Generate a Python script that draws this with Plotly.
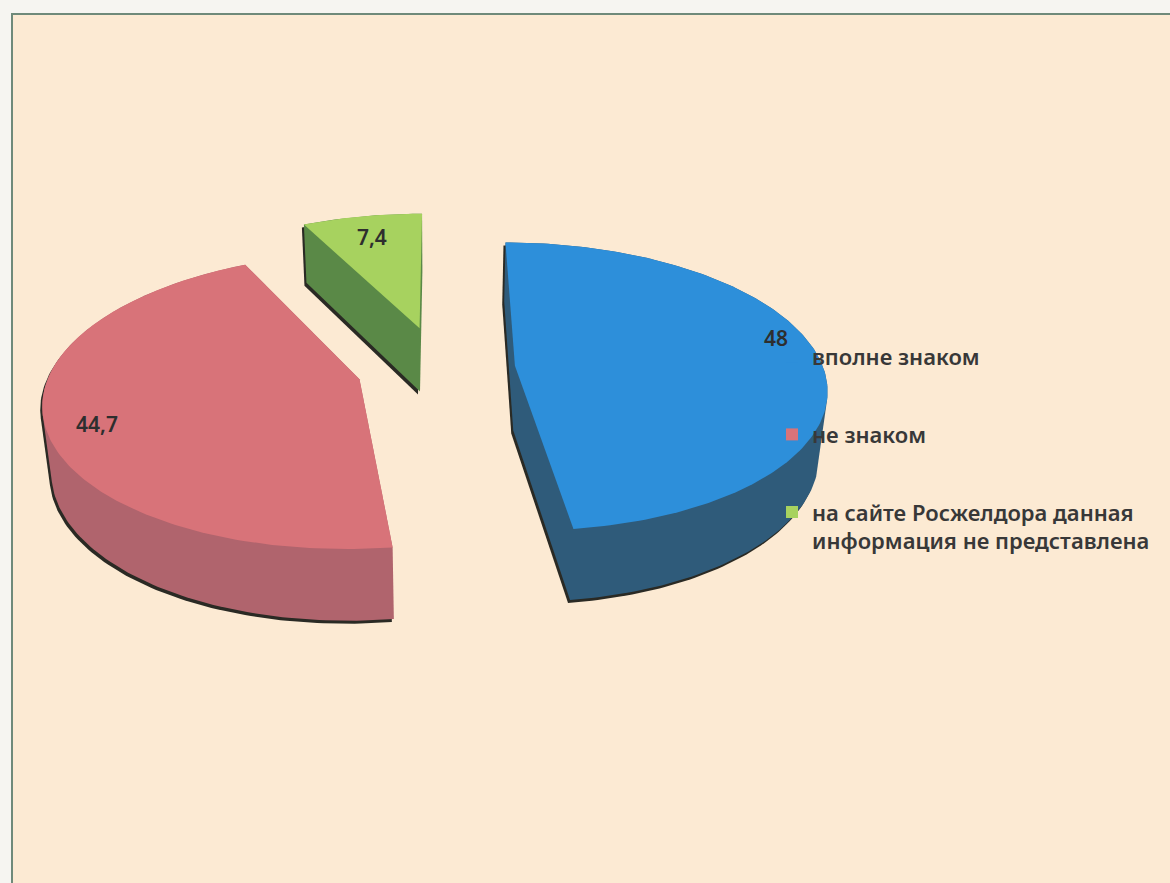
import math
import plotly.graph_objects as go

# ---- data ----
categories = ["вполне знаком", "не знаком",
              "на сайте Росжелдора данная информация не представлена"]
legend_names = ["вполне знаком", "не знаком",
                "на сайте Росжелдора данная<br>информация не представлена"]
values = [48, 44.7, 7.4]

# ---- styling ----
top_colors = ["#2d8fda", "#d87379", "#a7d25f"]
side_colors = ["#2f5b7a", "#b0646d", "#5a8947"]
pull = [0.244, 0.27, 0.30]          # explosion of each slice (in pie radii)
label_radius = [0.86, 0.84, 0.80]   # label distance from slice centre
label_yshift = [20, -8, 0]

W, H = 1170, 883
ELEV = math.radians(30)   # camera elevation
DIST = 6.0                # camera distance (pie radii)
FX, FY = 1850, 1700       # focal scale, px
VX, VY = 440, 368         # screen position of the pie centre
THICK = 0.27              # pie thickness (pie radii)
SHADOW = (-2, 3)          # px offset of the dark edge under each slice


def project(X, Z, h=0.0):
    """Perspective projection of a point on the pie (X right, Z away, h up)."""
    yc = h * math.cos(ELEV) + Z * math.sin(ELEV)
    zc = -h * math.sin(ELEV) + Z * math.cos(ELEV) + DIST
    return VX + FX * X / zc, VY - FY * yc / zc


def hull(points):
    pts = sorted(set(points))
    if len(pts) < 3:
        return pts

    def cross(o, a, b):
        return (a[0] - o[0]) * (b[1] - o[1]) - (a[1] - o[1]) * (b[0] - o[0])

    lower, upper = [], []
    for p in pts:
        while len(lower) >= 2 and cross(lower[-2], lower[-1], p) <= 0:
            lower.pop()
        lower.append(p)
    for p in reversed(pts):
        while len(upper) >= 2 and cross(upper[-2], upper[-1], p) <= 0:
            upper.pop()
        upper.append(p)
    return lower[:-1] + upper[:-1]


total = sum(values)
slices = []
start = 0.0
for i, v in enumerate(values):
    a0 = start
    a1 = start + 2 * math.pi * v / total
    start = a1
    mid = (a0 + a1) / 2
    cx = pull[i] * math.sin(mid)
    cz = pull[i] * math.cos(mid)
    n = max(4, int(math.degrees(a1 - a0)))
    rim = [(cx + math.sin(a0 + (a1 - a0) * k / n), cz + math.cos(a0 + (a1 - a0) * k / n))
           for k in range(n + 1)]
    face = [(cx, cz)] + rim
    slices.append(dict(i=i, mid=mid, cx=cx, cz=cz, face=face))

fig = go.Figure()

# draw from the back of the pie towards the viewer
for s in sorted(slices, key=lambda d: -d["cz"]):
    i = s["i"]
    top = [project(x, z, 0.0) for x, z in s["face"]]
    bottom = [project(x, z, -THICK) for x, z in s["face"]]
    body = hull(top + bottom)
    body_closed = body + [body[0]]

    fig.add_trace(go.Scatter(
        x=[p[0] + SHADOW[0] for p in body_closed],
        y=[p[1] + SHADOW[1] for p in body_closed],
        fill="toself", fillcolor="#2a2a24", mode="lines", line=dict(width=0),
        hoverinfo="skip", showlegend=False))
    fig.add_trace(go.Scatter(
        x=[p[0] for p in body_closed], y=[p[1] for p in body_closed],
        fill="toself", fillcolor=side_colors[i], mode="lines", line=dict(width=0),
        hoverinfo="skip", showlegend=False))
    top_closed = top + [top[0]]
    fig.add_trace(go.Scatter(
        x=[p[0] for p in top_closed], y=[p[1] for p in top_closed],
        fill="toself", fillcolor=top_colors[i], mode="lines", line=dict(width=0),
        name=categories[i], text=f"{categories[i]}: {values[i]}", hoverinfo="text",
        showlegend=False))

    lx, ly = project(s["cx"] + label_radius[i] * math.sin(s["mid"]),
                     s["cz"] + label_radius[i] * math.cos(s["mid"]))
    fig.add_annotation(
        x=lx, y=ly, text=f"{values[i]:g}".replace(".", ","), showarrow=False,
        yshift=label_yshift[i],
        font=dict(family="Noto Sans", size=21, color="#2e2e2e", weight=600))

# legend entries
for i, name in enumerate(legend_names):
    fig.add_trace(go.Scatter(
        x=[None], y=[None], mode="markers", name=name, legendgroup=f"g{i}",
        marker=dict(symbol="square", size=12, color=top_colors[i])))

fig.update_layout(
    width=W, height=H,
    margin=dict(l=0, r=0, t=0, b=0),
    paper_bgcolor="#f6f5f1",
    plot_bgcolor="rgba(0,0,0,0)",
    xaxis=dict(range=[0, W], visible=False, fixedrange=True),
    yaxis=dict(range=[H, 0], visible=False, fixedrange=True),
    showlegend=True,
    legend=dict(
        x=772 / W, y=1 - 336 / H, xanchor="left", yanchor="top",
        bgcolor="rgba(0,0,0,0)", borderwidth=0,
        traceorder="grouped", tracegroupgap=46, valign="top",
        itemwidth=30,
        font=dict(family="Noto Sans", size=22, color="#383838", weight=600)),
    shapes=[dict(
        type="rect", xref="x", yref="y", x0=12, y0=14, x1=W + 20, y1=H + 20,
        line=dict(color="#6f8a7a", width=2), fillcolor="#fcead3", layer="below")],
)

fig.write_html("out.html")
